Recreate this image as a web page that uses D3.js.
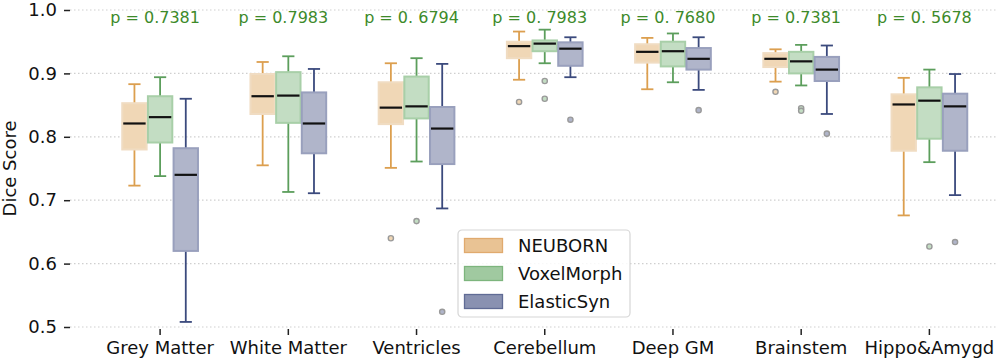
<!DOCTYPE html>
<html>
<head>
<style>
  body { margin: 0; background: #fff; }
  svg text { font-family: "DejaVu Sans", sans-serif; }
</style>
<script src="https://d3js.org/d3.v7.min.js"></script>
</head>
<body>
<script>
// regions on the x axis
const categories = ["Grey Matter", "White Matter", "Ventricles", "Cerebellum", "Deep GM", "Brainstem", "Hippo&Amygd"];
const series = ["NEUBORN", "VoxelMorph", "ElasticSyn"];
const pLabels = ["p = 0.7381", "p = 0.7983", "p = 0. 6794", "p = 0. 7983", "p = 0. 7680", "p = 0.7381", "p = 0. 5678"];
const yTicks = [0.5, 0.6, 0.7, 0.8, 0.9, 1.0];

// box stats per region: [lower whisker, q1, median, q3, upper whisker]
const neubornStats = [
  [0.723, 0.780, 0.821, 0.853, 0.883],
  [0.755, 0.836, 0.864, 0.899, 0.918],
  [0.751, 0.820, 0.846, 0.886, 0.916],
  [0.890, 0.924, 0.943, 0.950, 0.966],
  [0.875, 0.917, 0.934, 0.946, 0.956],
  [0.887, 0.910, 0.923, 0.932, 0.938],
  [0.676, 0.778, 0.851, 0.867, 0.893]
];
const voxelmorphStats = [
  [0.738, 0.791, 0.831, 0.864, 0.894],
  [0.713, 0.822, 0.865, 0.902, 0.927],
  [0.761, 0.829, 0.848, 0.895, 0.924],
  [0.916, 0.935, 0.947, 0.952, 0.969],
  [0.886, 0.911, 0.935, 0.950, 0.963],
  [0.881, 0.900, 0.919, 0.934, 0.945],
  [0.760, 0.797, 0.857, 0.878, 0.906]
];
const elasticsynStats = [
  [0.508, 0.620, 0.740, 0.782, 0.860],
  [0.711, 0.774, 0.821, 0.870, 0.907],
  [0.687, 0.757, 0.813, 0.847, 0.915],
  [0.894, 0.912, 0.939, 0.949, 0.957],
  [0.874, 0.906, 0.923, 0.940, 0.957],
  [0.836, 0.888, 0.906, 0.926, 0.944],
  [0.708, 0.778, 0.848, 0.868, 0.899]
];
// outlier values per region
const neubornOut = [[], [], [0.640], [0.855], [], [0.871], []];
const voxelmorphOut = [[], [], [0.667], [0.888, 0.860], [], [0.845, 0.841], [0.627]];
const elasticsynOut = [[], [], [0.524], [0.827], [0.842], [0.805], [0.634]];

const stats = [neubornStats, voxelmorphStats, elasticsynStats];
const outs = [neubornOut, voxelmorphOut, elasticsynOut];

const fillCol = ["#f0d7b6", "#c3ddc3", "#b0b5ca"];
const edgeCol = ["#f0dcc2", "#a8cfa8", "#99a0bd"];
const lineCol = ["#dc9f4f", "#5c9e5c", "#3b4a7d"];
const legFill = ["#e9c394", "#a0c9a0", "#8991b1"];
const legEdge = ["#e0aa6e", "#7db57d", "#606b95"];

const W = 996, H = 361;
const svg = d3.select("body").append("svg").attr("width", W).attr("height", H);

const y = d3.scaleLinear().domain([0.5, 1.0]).range([327, 10]);
const x = d3.scaleBand().domain(categories).range([96, 993.5]).padding(0);
const xs = d3.scaleBand().domain(series).range([-38.5, 38.5]);
const bw = xs.bandwidth() * 0.95;

// grid
svg.append("g").selectAll("line").data(yTicks).join("line")
  .attr("x1", 70).attr("x2", W)
  .attr("y1", d => y(d)).attr("y2", d => y(d))
  .attr("stroke", "#cfcfcf").attr("stroke-width", 1.2)
  .attr("stroke-dasharray", "1.5,2.5");

// axes
const yAxis = svg.append("g").attr("transform", "translate(70,0)")
  .call(d3.axisLeft(y).tickValues(yTicks).tickFormat(d3.format(".1f")).tickSize(6).tickPadding(7));
const xAxis = svg.append("g").attr("transform", "translate(0,329)")
  .call(d3.axisBottom(x).tickSize(6).tickPadding(6));
[yAxis, xAxis].forEach(a => {
  a.select(".domain").remove();
  a.selectAll(".tick line").attr("stroke", "#222").attr("stroke-width", 1.5);
  a.selectAll("text").attr("font-size", 18).attr("fill", "#111").attr("font-family", "DejaVu Sans");
});

svg.append("text")
  .attr("transform", "translate(16," + (y(0.75)) + ") rotate(-90)")
  .attr("text-anchor", "middle").attr("font-size", 18).attr("fill", "#111")
  .text("Dice Score");

// p values
svg.append("g").selectAll("text").data(categories).join("text")
  .attr("x", d => x(d) + x.bandwidth() / 2 - 5)
  .attr("y", 22.5)
  .attr("text-anchor", "middle").attr("font-size", 16).attr("fill", "#3d8a2a")
  .text((d, i) => pLabels[i]);

// boxes
series.forEach((s, si) => {
  const g = svg.append("g");
  categories.forEach((c, ci) => {
    const [lo, q1, med, q3, hi] = stats[si][ci];
    const cx = x(c) + x.bandwidth() / 2 + xs(s) + xs.bandwidth() / 2;
    const capW = bw / 2;
    g.append("line").attr("x1", cx).attr("x2", cx).attr("y1", y(hi)).attr("y2", y(q3))
      .attr("stroke", lineCol[si]).attr("stroke-width", 1.8);
    g.append("line").attr("x1", cx).attr("x2", cx).attr("y1", y(q1)).attr("y2", y(lo))
      .attr("stroke", lineCol[si]).attr("stroke-width", 1.8);
    g.append("line").attr("x1", cx - capW / 2).attr("x2", cx + capW / 2).attr("y1", y(hi)).attr("y2", y(hi))
      .attr("stroke", lineCol[si]).attr("stroke-width", 1.8);
    g.append("line").attr("x1", cx - capW / 2).attr("x2", cx + capW / 2).attr("y1", y(lo)).attr("y2", y(lo))
      .attr("stroke", lineCol[si]).attr("stroke-width", 1.8);
    g.append("rect").attr("x", cx - bw / 2).attr("width", bw)
      .attr("y", y(q3)).attr("height", y(q1) - y(q3))
      .attr("fill", fillCol[si]).attr("stroke", edgeCol[si]).attr("stroke-width", 2);
    g.append("line").attr("x1", cx - bw / 2 + 1).attr("x2", cx + bw / 2 - 1).attr("y1", y(med)).attr("y2", y(med))
      .attr("stroke", "#111").attr("stroke-width", 2.2);
    outs[si][ci].forEach(v => {
      g.append("circle").attr("cx", cx).attr("cy", y(v)).attr("r", 2.6)
        .attr("fill", fillCol[si]).attr("stroke", "#9a9a9a").attr("stroke-width", 1.4);
    });
  });
});

// legend
const lg = svg.append("g").attr("transform", "translate(458,230)");
lg.append("rect").attr("width", 172).attr("height", 87).attr("rx", 4)
  .attr("fill", "#fff").attr("fill-opacity", 0.85).attr("stroke", "#d6d6d6").attr("stroke-width", 1.2);
series.forEach((s, i) => {
  lg.append("rect").attr("x", 6.5).attr("y", 8.5 + i * 28).attr("width", 38).attr("height", 14)
    .attr("fill", legFill[i]).attr("stroke", legEdge[i]).attr("stroke-width", 1.3);
  lg.append("text").attr("x", 60).attr("y", 15.5 + i * 28).attr("dy", "0.35em")
    .attr("font-size", 18).attr("fill", "#111").text(s);
});
</script>
</body>
</html>
